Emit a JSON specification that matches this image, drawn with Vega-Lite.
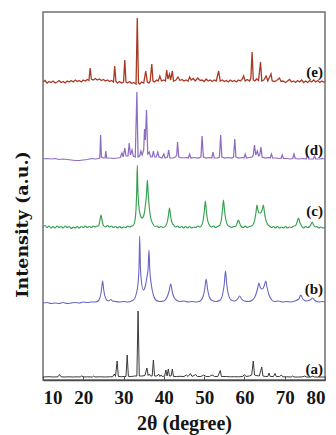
{
"$schema": "https://vega.github.io/schema/vega-lite/v6.json",
"width": 282, "height": 368,
"autosize": {"type": "none"},
"padding": {"left": 43, "top": 12, "right": 11, "bottom": 55},
"background": "white",
"config": {"view": {"stroke": "#707070", "strokeWidth": 1.5}, "font": "Liberation Serif", "axis": {"grid": false}},
"datasets": {
"labels": [
{"label": "(e)", "x": 80, "y": 308},
{"label": "(d)", "x": 80, "y": 230},
{"label": "(c)", "x": 80, "y": 169},
{"label": "(b)", "x": 80, "y": 91},
{"label": "(a)", "x": 80, "y": 11}
],
"xrd": [
{"s":"e","x":10.0,"y":298},{"s":"e","x":10.5,"y":299.5},{"s":"e","x":11.0,"y":297},{"s":"e","x":11.5,"y":298.5},{"s":"e","x":12.0,"y":297.5},{"s":"e","x":12.5,"y":299},{"s":"e","x":13.0,"y":297},{"s":"e","x":13.5,"y":298},{"s":"e","x":14.0,"y":299.5},{"s":"e","x":14.5,"y":297.5},{"s":"e","x":15.0,"y":298.5},{"s":"e","x":15.5,"y":297},{"s":"e","x":16.0,"y":299},{"s":"e","x":16.5,"y":298},{"s":"e","x":17.0,"y":299.5},{"s":"e","x":17.5,"y":298},{"s":"e","x":18.0,"y":300},{"s":"e","x":18.5,"y":298.5},{"s":"e","x":19.0,"y":299.5},{"s":"e","x":19.5,"y":298},{"s":"e","x":20.0,"y":300},{"s":"e","x":20.5,"y":299},{"s":"e","x":21.0,"y":300.5},{"s":"e","x":21.4,"y":299.5},{"s":"e","x":21.7,"y":312},{"s":"e","x":22.0,"y":301},{"s":"e","x":22.5,"y":300},{"s":"e","x":23.0,"y":301.5},{"s":"e","x":23.5,"y":300},{"s":"e","x":24.0,"y":301},{"s":"e","x":24.5,"y":299.5},{"s":"e","x":25.0,"y":300.5},{"s":"e","x":25.5,"y":299},{"s":"e","x":26.0,"y":300},{"s":"e","x":26.5,"y":298.5},{"s":"e","x":27.0,"y":299.5},{"s":"e","x":27.5,"y":298},{"s":"e","x":27.8,"y":314},{"s":"e","x":28.1,"y":298.5},{"s":"e","x":28.5,"y":297},{"s":"e","x":29.0,"y":298.5},{"s":"e","x":29.5,"y":297},{"s":"e","x":30.0,"y":298},{"s":"e","x":30.3,"y":320},{"s":"e","x":30.6,"y":298},{"s":"e","x":31.0,"y":297},{"s":"e","x":31.5,"y":298.5},{"s":"e","x":32.0,"y":296.5},{"s":"e","x":32.5,"y":297.5},{"s":"e","x":33.1,"y":296},{"s":"e","x":33.4,"y":362},{"s":"e","x":33.7,"y":297},{"s":"e","x":34.0,"y":296},{"s":"e","x":34.5,"y":298},{"s":"e","x":35.0,"y":297},{"s":"e","x":35.5,"y":309},{"s":"e","x":35.9,"y":298},{"s":"e","x":36.3,"y":297},{"s":"e","x":36.6,"y":299},{"s":"e","x":37.0,"y":316},{"s":"e","x":37.3,"y":299},{"s":"e","x":37.7,"y":298},{"s":"e","x":38.2,"y":300},{"s":"e","x":38.6,"y":299},{"s":"e","x":39.0,"y":304},{"s":"e","x":39.4,"y":299},{"s":"e","x":40.0,"y":300},{"s":"e","x":40.4,"y":299},{"s":"e","x":40.7,"y":310},{"s":"e","x":41.0,"y":301},{"s":"e","x":41.4,"y":306},{"s":"e","x":41.7,"y":300},{"s":"e","x":42.1,"y":309},{"s":"e","x":42.4,"y":299},{"s":"e","x":43.0,"y":300},{"s":"e","x":43.5,"y":303},{"s":"e","x":44.0,"y":299.5},{"s":"e","x":44.5,"y":300.5},{"s":"e","x":45.0,"y":299},{"s":"e","x":45.5,"y":300},{"s":"e","x":46.0,"y":299},{"s":"e","x":46.4,"y":303},{"s":"e","x":46.8,"y":300},{"s":"e","x":47.3,"y":301.5},{"s":"e","x":47.8,"y":299},{"s":"e","x":48.4,"y":302},{"s":"e","x":49.0,"y":299.5},{"s":"e","x":49.5,"y":300},{"s":"e","x":50.0,"y":298.5},{"s":"e","x":50.5,"y":301},{"s":"e","x":51.0,"y":299},{"s":"e","x":51.5,"y":300},{"s":"e","x":52.0,"y":298.5},{"s":"e","x":52.5,"y":300},{"s":"e","x":53.0,"y":299},{"s":"e","x":53.6,"y":309},{"s":"e","x":54.0,"y":299},{"s":"e","x":54.5,"y":300},{"s":"e","x":55.0,"y":298.5},{"s":"e","x":55.5,"y":299.5},{"s":"e","x":56.0,"y":298},{"s":"e","x":56.5,"y":300},{"s":"e","x":57.0,"y":298.5},{"s":"e","x":57.5,"y":299.5},{"s":"e","x":58.0,"y":298},{"s":"e","x":58.5,"y":300},{"s":"e","x":59.0,"y":299},{"s":"e","x":59.5,"y":301},{"s":"e","x":59.8,"y":304},{"s":"e","x":60.2,"y":299},{"s":"e","x":60.7,"y":300.5},{"s":"e","x":61.3,"y":299},{"s":"e","x":61.6,"y":302},{"s":"e","x":61.9,"y":328},{"s":"e","x":62.2,"y":300},{"s":"e","x":62.6,"y":299},{"s":"e","x":63.0,"y":301},{"s":"e","x":63.5,"y":299.5},{"s":"e","x":64.0,"y":318},{"s":"e","x":64.3,"y":299},{"s":"e","x":64.8,"y":300},{"s":"e","x":65.4,"y":304},{"s":"e","x":65.8,"y":299},{"s":"e","x":66.6,"y":306},{"s":"e","x":66.9,"y":299},{"s":"e","x":67.5,"y":298.5},{"s":"e","x":68.0,"y":299.5},{"s":"e","x":68.7,"y":302},{"s":"e","x":69.1,"y":298.5},{"s":"e","x":69.6,"y":299},{"s":"e","x":70.2,"y":297.5},{"s":"e","x":70.7,"y":299},{"s":"e","x":71.2,"y":300.5},{"s":"e","x":71.7,"y":298},{"s":"e","x":72.2,"y":299},{"s":"e","x":72.7,"y":297.5},{"s":"e","x":73.2,"y":299.5},{"s":"e","x":73.7,"y":298},{"s":"e","x":74.2,"y":300},{"s":"e","x":74.7,"y":297.5},{"s":"e","x":75.2,"y":299},{"s":"e","x":75.7,"y":297.5},{"s":"e","x":76.2,"y":299.5},{"s":"e","x":76.7,"y":298},{"s":"e","x":77.2,"y":300},{"s":"e","x":77.7,"y":298},{"s":"e","x":78.2,"y":299.5},{"s":"e","x":78.7,"y":297.5},{"s":"e","x":79.2,"y":299},{"s":"e","x":79.6,"y":298},{"s":"e","x":80.0,"y":298.5},
{"s":"d","x":10.0,"y":221},{"s":"d","x":11.0,"y":221.5},{"s":"d","x":12.0,"y":221},{"s":"d","x":13.0,"y":221.5},{"s":"d","x":14.0,"y":220.5},{"s":"d","x":15.0,"y":221},{"s":"d","x":16.0,"y":220.5},{"s":"d","x":17.0,"y":220},{"s":"d","x":18.0,"y":219.5},{"s":"d","x":19.0,"y":219.5},{"s":"d","x":20.0,"y":220},{"s":"d","x":21.0,"y":220.5},{"s":"d","x":22.0,"y":221.5},{"s":"d","x":23.0,"y":221},{"s":"d","x":23.8,"y":221.5},{"s":"d","x":24.1,"y":222},{"s":"d","x":24.3,"y":245},{"s":"d","x":24.5,"y":223},{"s":"d","x":25.0,"y":222},{"s":"d","x":25.4,"y":222},{"s":"d","x":25.6,"y":229},{"s":"d","x":25.8,"y":222},{"s":"d","x":26.5,"y":222},{"s":"d","x":27.5,"y":221.5},{"s":"d","x":28.5,"y":222},{"s":"d","x":29.2,"y":222.5},{"s":"d","x":29.6,"y":227},{"s":"d","x":29.9,"y":223},{"s":"d","x":30.3,"y":232},{"s":"d","x":30.6,"y":224},{"s":"d","x":31.1,"y":224},{"s":"d","x":31.4,"y":237},{"s":"d","x":31.7,"y":225},{"s":"d","x":32.1,"y":230},{"s":"d","x":32.4,"y":224},{"s":"d","x":32.9,"y":223},{"s":"d","x":33.3,"y":288},{"s":"d","x":33.6,"y":223},{"s":"d","x":34.0,"y":224},{"s":"d","x":34.3,"y":229},{"s":"d","x":34.6,"y":225},{"s":"d","x":35.0,"y":230},{"s":"d","x":35.2,"y":251},{"s":"d","x":35.4,"y":240},{"s":"d","x":35.7,"y":270},{"s":"d","x":36.0,"y":226},{"s":"d","x":36.4,"y":228},{"s":"d","x":36.7,"y":223},{"s":"d","x":37.1,"y":223},{"s":"d","x":37.4,"y":229},{"s":"d","x":37.7,"y":223},{"s":"d","x":38.1,"y":223},{"s":"d","x":38.5,"y":228},{"s":"d","x":38.8,"y":223},{"s":"d","x":39.5,"y":222},{"s":"d","x":40.0,"y":226},{"s":"d","x":40.3,"y":222},{"s":"d","x":40.9,"y":223},{"s":"d","x":41.2,"y":230},{"s":"d","x":41.5,"y":222},{"s":"d","x":42.3,"y":222},{"s":"d","x":42.9,"y":223},{"s":"d","x":43.2,"y":225},{"s":"d","x":43.4,"y":238},{"s":"d","x":43.7,"y":223},{"s":"d","x":44.5,"y":222},{"s":"d","x":45.5,"y":222.5},{"s":"d","x":46.1,"y":222},{"s":"d","x":46.4,"y":226},{"s":"d","x":46.7,"y":222},{"s":"d","x":47.5,"y":222.5},{"s":"d","x":48.5,"y":222},{"s":"d","x":49.2,"y":223},{"s":"d","x":49.5,"y":244},{"s":"d","x":49.8,"y":223},{"s":"d","x":50.5,"y":222},{"s":"d","x":51.3,"y":222.5},{"s":"d","x":51.9,"y":222},{"s":"d","x":52.2,"y":228},{"s":"d","x":52.5,"y":222},{"s":"d","x":53.3,"y":222},{"s":"d","x":53.8,"y":223},{"s":"d","x":54.1,"y":245},{"s":"d","x":54.4,"y":223},{"s":"d","x":55.2,"y":222},{"s":"d","x":56.0,"y":222.5},{"s":"d","x":56.8,"y":222},{"s":"d","x":57.3,"y":223},{"s":"d","x":57.6,"y":241},{"s":"d","x":57.9,"y":223},{"s":"d","x":58.6,"y":222},{"s":"d","x":59.4,"y":222.5},{"s":"d","x":59.9,"y":222},{"s":"d","x":60.2,"y":226},{"s":"d","x":60.5,"y":222},{"s":"d","x":61.2,"y":222.5},{"s":"d","x":61.9,"y":223},{"s":"d","x":62.2,"y":225},{"s":"d","x":62.5,"y":235},{"s":"d","x":62.8,"y":225},{"s":"d","x":63.2,"y":229},{"s":"d","x":63.5,"y":224},{"s":"d","x":63.8,"y":225},{"s":"d","x":64.1,"y":233},{"s":"d","x":64.4,"y":223},{"s":"d","x":65.2,"y":222},{"s":"d","x":66.0,"y":222.5},{"s":"d","x":66.4,"y":222},{"s":"d","x":66.7,"y":226},{"s":"d","x":67.0,"y":222},{"s":"d","x":67.8,"y":222},{"s":"d","x":68.6,"y":221.5},{"s":"d","x":69.1,"y":221.5},{"s":"d","x":69.4,"y":225},{"s":"d","x":69.7,"y":221.5},{"s":"d","x":70.5,"y":221.5},{"s":"d","x":71.4,"y":221},{"s":"d","x":72.0,"y":221.5},{"s":"d","x":72.3,"y":226},{"s":"d","x":72.6,"y":221.5},{"s":"d","x":73.5,"y":221},{"s":"d","x":74.5,"y":221.5},{"s":"d","x":75.3,"y":221},{"s":"d","x":75.6,"y":225},{"s":"d","x":75.9,"y":221},{"s":"d","x":76.7,"y":221},{"s":"d","x":77.1,"y":221},{"s":"d","x":77.4,"y":224},{"s":"d","x":77.7,"y":221},{"s":"d","x":78.5,"y":221},{"s":"d","x":79.3,"y":221.5},{"s":"d","x":80.0,"y":221},
{"s":"c","x":10.0,"y":153},{"s":"c","x":10.5,"y":154.5},{"s":"c","x":11.0,"y":152.5},{"s":"c","x":11.5,"y":154},{"s":"c","x":12.0,"y":152},{"s":"c","x":12.5,"y":153.5},{"s":"c","x":13.0,"y":152},{"s":"c","x":13.5,"y":154},{"s":"c","x":14.0,"y":152.5},{"s":"c","x":14.5,"y":153.5},{"s":"c","x":15.0,"y":152},{"s":"c","x":15.5,"y":154},{"s":"c","x":16.0,"y":152.5},{"s":"c","x":16.5,"y":153.5},{"s":"c","x":17.0,"y":151.5},{"s":"c","x":17.5,"y":153},{"s":"c","x":18.0,"y":152},{"s":"c","x":18.5,"y":153.5},{"s":"c","x":19.0,"y":152},{"s":"c","x":19.5,"y":153.5},{"s":"c","x":20.0,"y":152.5},{"s":"c","x":20.5,"y":154},{"s":"c","x":21.0,"y":152.5},{"s":"c","x":21.5,"y":153.5},{"s":"c","x":22.0,"y":152.5},{"s":"c","x":22.5,"y":154},{"s":"c","x":23.0,"y":153},{"s":"c","x":23.4,"y":154},{"s":"c","x":23.8,"y":154},{"s":"c","x":24.1,"y":159},{"s":"c","x":24.4,"y":165},{"s":"c","x":24.7,"y":159},{"s":"c","x":25.0,"y":154.5},{"s":"c","x":25.5,"y":153},{"s":"c","x":26.0,"y":154.5},{"s":"c","x":26.5,"y":153},{"s":"c","x":27.0,"y":154},{"s":"c","x":27.5,"y":152.5},{"s":"c","x":28.0,"y":153.5},{"s":"c","x":28.5,"y":152},{"s":"c","x":29.0,"y":153.5},{"s":"c","x":29.5,"y":152},{"s":"c","x":30.0,"y":153},{"s":"c","x":30.5,"y":152.5},{"s":"c","x":31.0,"y":154},{"s":"c","x":31.5,"y":153},{"s":"c","x":32.0,"y":154},{"s":"c","x":32.4,"y":154.5},{"s":"c","x":32.8,"y":159},{"s":"c","x":33.1,"y":172},{"s":"c","x":33.25,"y":188},{"s":"c","x":33.4,"y":215},{"s":"c","x":33.55,"y":190},{"s":"c","x":33.75,"y":176},{"s":"c","x":34.1,"y":166},{"s":"c","x":34.6,"y":162},{"s":"c","x":35.1,"y":166},{"s":"c","x":35.45,"y":176},{"s":"c","x":35.7,"y":186},{"s":"c","x":35.9,"y":200},{"s":"c","x":36.1,"y":187},{"s":"c","x":36.4,"y":172},{"s":"c","x":36.8,"y":161},{"s":"c","x":37.3,"y":156},{"s":"c","x":37.8,"y":153.5},{"s":"c","x":38.3,"y":154},{"s":"c","x":38.8,"y":152.5},{"s":"c","x":39.3,"y":153.5},{"s":"c","x":39.8,"y":152.5},{"s":"c","x":40.4,"y":154},{"s":"c","x":40.9,"y":159},{"s":"c","x":41.15,"y":165},{"s":"c","x":41.4,"y":172},{"s":"c","x":41.65,"y":165},{"s":"c","x":41.9,"y":159},{"s":"c","x":42.4,"y":155},{"s":"c","x":42.9,"y":153},{"s":"c","x":43.4,"y":154},{"s":"c","x":43.9,"y":152.5},{"s":"c","x":44.4,"y":153.5},{"s":"c","x":44.9,"y":152},{"s":"c","x":45.4,"y":153.5},{"s":"c","x":45.9,"y":152},{"s":"c","x":46.4,"y":153.5},{"s":"c","x":46.9,"y":152},{"s":"c","x":47.4,"y":153},{"s":"c","x":47.9,"y":152.5},{"s":"c","x":48.4,"y":154},{"s":"c","x":48.9,"y":153},{"s":"c","x":49.3,"y":154},{"s":"c","x":49.8,"y":161},{"s":"c","x":50.05,"y":169},{"s":"c","x":50.3,"y":179},{"s":"c","x":50.55,"y":169},{"s":"c","x":50.8,"y":161},{"s":"c","x":51.3,"y":155},{"s":"c","x":51.8,"y":153},{"s":"c","x":52.3,"y":154},{"s":"c","x":52.8,"y":152.5},{"s":"c","x":53.3,"y":153.5},{"s":"c","x":53.8,"y":154.5},{"s":"c","x":54.3,"y":161},{"s":"c","x":54.55,"y":170},{"s":"c","x":54.8,"y":180},{"s":"c","x":55.05,"y":170},{"s":"c","x":55.3,"y":162},{"s":"c","x":55.8,"y":155},{"s":"c","x":56.3,"y":153.5},{"s":"c","x":56.8,"y":152.5},{"s":"c","x":57.3,"y":153.5},{"s":"c","x":57.8,"y":153.5},{"s":"c","x":58.2,"y":157},{"s":"c","x":58.5,"y":160},{"s":"c","x":58.8,"y":157},{"s":"c","x":59.2,"y":153.5},{"s":"c","x":59.7,"y":152.5},{"s":"c","x":60.2,"y":154},{"s":"c","x":60.7,"y":152.5},{"s":"c","x":61.2,"y":153.5},{"s":"c","x":61.7,"y":154},{"s":"c","x":62.1,"y":155},{"s":"c","x":62.6,"y":161},{"s":"c","x":62.85,"y":167},{"s":"c","x":63.1,"y":175},{"s":"c","x":63.35,"y":170},{"s":"c","x":63.6,"y":167},{"s":"c","x":63.9,"y":167},{"s":"c","x":64.2,"y":168},{"s":"c","x":64.45,"y":171},{"s":"c","x":64.7,"y":175},{"s":"c","x":64.95,"y":168},{"s":"c","x":65.2,"y":162},{"s":"c","x":65.7,"y":156},{"s":"c","x":66.2,"y":154},{"s":"c","x":66.7,"y":152.5},{"s":"c","x":67.2,"y":153.5},{"s":"c","x":67.7,"y":152},{"s":"c","x":68.2,"y":153.5},{"s":"c","x":68.7,"y":152},{"s":"c","x":69.2,"y":153},{"s":"c","x":69.7,"y":152},{"s":"c","x":70.2,"y":153.5},{"s":"c","x":70.7,"y":152},{"s":"c","x":71.2,"y":153},{"s":"c","x":71.7,"y":152.5},{"s":"c","x":72.2,"y":154},{"s":"c","x":72.6,"y":154},{"s":"c","x":73.0,"y":157},{"s":"c","x":73.4,"y":162},{"s":"c","x":73.8,"y":157},{"s":"c","x":74.2,"y":154},{"s":"c","x":74.7,"y":152},{"s":"c","x":75.2,"y":153.5},{"s":"c","x":75.7,"y":152.5},{"s":"c","x":76.2,"y":153.5},{"s":"c","x":76.5,"y":155.5},{"s":"c","x":76.8,"y":158},{"s":"c","x":77.1,"y":155.5},{"s":"c","x":77.5,"y":153},{"s":"c","x":78.0,"y":153.5},{"s":"c","x":78.5,"y":152},{"s":"c","x":79.0,"y":153},{"s":"c","x":79.5,"y":152},{"s":"c","x":80.0,"y":152.5},
{"s":"b","x":10.0,"y":77},{"s":"b","x":11.0,"y":77.5},{"s":"b","x":12.0,"y":76.5},{"s":"b","x":13.0,"y":77},{"s":"b","x":14.0,"y":76.5},{"s":"b","x":15.0,"y":77.5},{"s":"b","x":16.0,"y":76.5},{"s":"b","x":17.0,"y":77},{"s":"b","x":18.0,"y":77.5},{"s":"b","x":19.0,"y":77},{"s":"b","x":20.0,"y":78},{"s":"b","x":21.0,"y":77.5},{"s":"b","x":22.0,"y":78},{"s":"b","x":23.0,"y":78},{"s":"b","x":23.8,"y":79.5},{"s":"b","x":24.3,"y":85},{"s":"b","x":24.55,"y":91},{"s":"b","x":24.8,"y":99},{"s":"b","x":25.05,"y":91},{"s":"b","x":25.3,"y":85},{"s":"b","x":25.8,"y":80},{"s":"b","x":26.3,"y":79},{"s":"b","x":26.8,"y":80.5},{"s":"b","x":27.3,"y":79},{"s":"b","x":28.0,"y":78.5},{"s":"b","x":29.0,"y":78},{"s":"b","x":30.0,"y":78.5},{"s":"b","x":31.0,"y":78},{"s":"b","x":32.0,"y":79},{"s":"b","x":32.7,"y":81},{"s":"b","x":33.2,"y":87},{"s":"b","x":33.6,"y":97},{"s":"b","x":33.85,"y":115},{"s":"b","x":34.0,"y":144},{"s":"b","x":34.15,"y":117},{"s":"b","x":34.4,"y":100},{"s":"b","x":34.9,"y":90},{"s":"b","x":35.4,"y":94},{"s":"b","x":35.8,"y":103},{"s":"b","x":36.1,"y":112},{"s":"b","x":36.3,"y":130},{"s":"b","x":36.5,"y":111},{"s":"b","x":36.9,"y":95},{"s":"b","x":37.4,"y":85},{"s":"b","x":38.0,"y":80},{"s":"b","x":39.0,"y":78.5},{"s":"b","x":40.0,"y":79},{"s":"b","x":40.8,"y":83},{"s":"b","x":41.3,"y":89},{"s":"b","x":41.7,"y":96},{"s":"b","x":42.1,"y":88},{"s":"b","x":42.6,"y":82},{"s":"b","x":43.3,"y":79.5},{"s":"b","x":44.0,"y":78.5},{"s":"b","x":45.0,"y":79},{"s":"b","x":46.0,"y":78},{"s":"b","x":47.0,"y":78.5},{"s":"b","x":48.0,"y":78},{"s":"b","x":49.0,"y":79},{"s":"b","x":49.7,"y":83},{"s":"b","x":50.15,"y":91},{"s":"b","x":50.5,"y":101},{"s":"b","x":50.85,"y":91},{"s":"b","x":51.3,"y":83},{"s":"b","x":52.0,"y":79.5},{"s":"b","x":53.0,"y":78.5},{"s":"b","x":54.0,"y":80},{"s":"b","x":54.6,"y":86},{"s":"b","x":55.0,"y":96},{"s":"b","x":55.3,"y":109},{"s":"b","x":55.6,"y":96},{"s":"b","x":56.0,"y":86},{"s":"b","x":56.7,"y":80},{"s":"b","x":57.5,"y":79},{"s":"b","x":58.3,"y":81},{"s":"b","x":58.8,"y":84},{"s":"b","x":59.3,"y":81},{"s":"b","x":60.0,"y":79},{"s":"b","x":61.0,"y":78.5},{"s":"b","x":62.0,"y":80},{"s":"b","x":62.8,"y":85},{"s":"b","x":63.3,"y":92},{"s":"b","x":63.6,"y":97},{"s":"b","x":63.9,"y":93},{"s":"b","x":64.4,"y":91},{"s":"b","x":64.9,"y":94},{"s":"b","x":65.3,"y":99},{"s":"b","x":65.6,"y":93},{"s":"b","x":66.1,"y":85},{"s":"b","x":66.8,"y":80},{"s":"b","x":67.5,"y":78.5},{"s":"b","x":68.5,"y":79},{"s":"b","x":69.5,"y":78},{"s":"b","x":70.5,"y":78.5},{"s":"b","x":71.5,"y":78},{"s":"b","x":72.5,"y":79},{"s":"b","x":73.5,"y":81},{"s":"b","x":74.0,"y":85},{"s":"b","x":74.5,"y":81},{"s":"b","x":75.3,"y":79},{"s":"b","x":76.3,"y":80},{"s":"b","x":76.9,"y":82},{"s":"b","x":77.5,"y":79.5},{"s":"b","x":78.5,"y":78},{"s":"b","x":79.3,"y":78.5},{"s":"b","x":80.0,"y":78},
{"s":"a","x":10.0,"y":3},{"s":"a","x":11.5,"y":3.3},{"s":"a","x":12.5,"y":3},{"s":"a","x":13.7,"y":3.2},{"s":"a","x":14.1,"y":5.5},{"s":"a","x":14.5,"y":3.2},{"s":"a","x":15.5,"y":3},{"s":"a","x":16.5,"y":3.2},{"s":"a","x":17.5,"y":3},{"s":"a","x":18.5,"y":3.2},{"s":"a","x":19.3,"y":3},{"s":"a","x":19.6,"y":4.3},{"s":"a","x":19.9,"y":3},{"s":"a","x":21.0,"y":3.2},{"s":"a","x":22.3,"y":3},{"s":"a","x":22.6,"y":4},{"s":"a","x":22.9,"y":3},{"s":"a","x":24.0,"y":3.2},{"s":"a","x":25.5,"y":3},{"s":"a","x":26.5,"y":3.2},{"s":"a","x":27.3,"y":3.3},{"s":"a","x":27.7,"y":6},{"s":"a","x":28.0,"y":3.6},{"s":"a","x":28.4,"y":19},{"s":"a","x":28.7,"y":3.6},{"s":"a","x":29.5,"y":3.3},{"s":"a","x":30.2,"y":3.5},{"s":"a","x":30.6,"y":3.5},{"s":"a","x":30.9,"y":25},{"s":"a","x":31.2,"y":3.6},{"s":"a","x":32.0,"y":3.5},{"s":"a","x":32.7,"y":4},{"s":"a","x":33.3,"y":4},{"s":"a","x":33.6,"y":69},{"s":"a","x":33.9,"y":4},{"s":"a","x":34.6,"y":4},{"s":"a","x":35.3,"y":4.5},{"s":"a","x":35.8,"y":12},{"s":"a","x":36.1,"y":4.5},{"s":"a","x":36.4,"y":6},{"s":"a","x":36.7,"y":4},{"s":"a","x":37.1,"y":4},{"s":"a","x":37.4,"y":20},{"s":"a","x":37.7,"y":4},{"s":"a","x":38.3,"y":4},{"s":"a","x":38.7,"y":6},{"s":"a","x":39.0,"y":3.5},{"s":"a","x":39.3,"y":5},{"s":"a","x":39.6,"y":3.5},{"s":"a","x":40.2,"y":4},{"s":"a","x":40.5,"y":10},{"s":"a","x":40.8,"y":4},{"s":"a","x":41.1,"y":11},{"s":"a","x":41.4,"y":4},{"s":"a","x":41.8,"y":4},{"s":"a","x":42.1,"y":11},{"s":"a","x":42.4,"y":3.5},{"s":"a","x":43.2,"y":3.5},{"s":"a","x":44.0,"y":3.7},{"s":"a","x":45.0,"y":3.5},{"s":"a","x":45.6,"y":5},{"s":"a","x":46.0,"y":3.5},{"s":"a","x":46.6,"y":6.5},{"s":"a","x":47.0,"y":3.5},{"s":"a","x":47.9,"y":5.5},{"s":"a","x":48.3,"y":3.5},{"s":"a","x":49.2,"y":3.5},{"s":"a","x":49.9,"y":5},{"s":"a","x":50.5,"y":3.5},{"s":"a","x":51.3,"y":3.5},{"s":"a","x":52.0,"y":5},{"s":"a","x":52.6,"y":3.5},{"s":"a","x":53.4,"y":3.5},{"s":"a","x":54.0,"y":9.5},{"s":"a","x":54.3,"y":3.5},{"s":"a","x":55.5,"y":3.5},{"s":"a","x":56.5,"y":3.2},{"s":"a","x":57.5,"y":3.3},{"s":"a","x":58.5,"y":3.2},{"s":"a","x":59.6,"y":3.5},{"s":"a","x":60.0,"y":5.5},{"s":"a","x":60.4,"y":3.5},{"s":"a","x":61.2,"y":4},{"s":"a","x":61.8,"y":5},{"s":"a","x":62.2,"y":19},{"s":"a","x":62.5,"y":5},{"s":"a","x":62.9,"y":4.5},{"s":"a","x":63.7,"y":4},{"s":"a","x":64.3,"y":13},{"s":"a","x":64.6,"y":4},{"s":"a","x":65.2,"y":3.5},{"s":"a","x":65.8,"y":3.5},{"s":"a","x":66.1,"y":7},{"s":"a","x":66.4,"y":3.5},{"s":"a","x":67.2,"y":3.5},{"s":"a","x":67.6,"y":6.5},{"s":"a","x":67.9,"y":3.5},{"s":"a","x":68.7,"y":3.5},{"s":"a","x":69.2,"y":5},{"s":"a","x":69.5,"y":3.2},{"s":"a","x":70.5,"y":3.2},{"s":"a","x":71.6,"y":3},{"s":"a","x":72.0,"y":4},{"s":"a","x":72.3,"y":3},{"s":"a","x":73.5,"y":3},{"s":"a","x":74.5,"y":3.2},{"s":"a","x":75.0,"y":4},{"s":"a","x":75.3,"y":3},{"s":"a","x":76.5,"y":3},{"s":"a","x":77.0,"y":4},{"s":"a","x":77.3,"y":3},{"s":"a","x":78.5,"y":3},{"s":"a","x":80.0,"y":3}
]
},
"encoding": {
"x": {"field": "x", "type": "quantitative", "scale": {"domain": [10, 80], "nice": false, "zero": false},
 "axis": {"values": [10, 20, 30, 40, 50, 60, 70, 80], "labelFont": "Liberation Serif", "labelFontWeight": "bold", "labelFontSize": 19, "labelColor": "#151515", "labelPadding": 12, "tickSize": -4, "tickColor": "#555555", "domainColor": "#4a4a4a", "domainWidth": 1.5,
  "title": "2θ (degree)", "titleFont": "Liberation Serif", "titleFontWeight": "bold", "titleFontSize": 20, "titleColor": "#151515", "titleY": 49, "titleBaseline": "alphabetic"}},
"y": {"field": "y", "type": "quantitative", "scale": {"domain": [0, 368], "nice": false, "zero": false},
 "axis": {"labels": false, "ticks": false, "domain": false, "title": "Intensity (a.u.)", "titleFont": "DejaVu Serif", "titleFontWeight": "bold", "titleFontSize": 17.5, "titleColor": "#151515", "titleAngle": -90, "titleX": -16, "titleY": 212, "titleAlign": "center", "titleBaseline": "alphabetic"}}
},
"layer": [
{"data": {"name": "xrd"}, "transform": [{"filter": "datum.s == 'a' || datum.s == 'd' || datum.s == 'e'"}],
 "mark": {"type": "line", "interpolate": "linear"},
 "encoding": {
  "color": {"field": "s", "type": "nominal", "scale": {"domain": ["a", "b", "c", "d", "e"], "range": ["#3a3a3a", "#6466bf", "#35a050", "#8e6cc4", "#a83a24"]}, "legend": null},
  "strokeWidth": {"field": "s", "type": "nominal", "scale": {"domain": ["a", "b", "c", "d", "e"], "range": [1.0, 1.3, 1.7, 1.2, 1.7]}, "legend": null}}},
{"data": {"name": "xrd"}, "transform": [{"filter": "datum.s == 'b' || datum.s == 'c'"}],
 "mark": {"type": "line", "interpolate": "monotone"},
 "encoding": {
  "color": {"field": "s", "type": "nominal", "scale": {"domain": ["a", "b", "c", "d", "e"], "range": ["#3a3a3a", "#6466bf", "#35a050", "#8e6cc4", "#a83a24"]}, "legend": null},
  "strokeWidth": {"field": "s", "type": "nominal", "scale": {"domain": ["a", "b", "c", "d", "e"], "range": [1.0, 1.3, 1.7, 1.2, 1.7]}, "legend": null}}},
{"data": {"name": "labels"},
 "mark": {"type": "text", "align": "right", "baseline": "middle", "dx": -2, "font": "Liberation Serif", "fontWeight": "bold", "fontSize": 15, "color": "#111111"},
 "encoding": {"text": {"field": "label", "type": "nominal"}}}
]
}
